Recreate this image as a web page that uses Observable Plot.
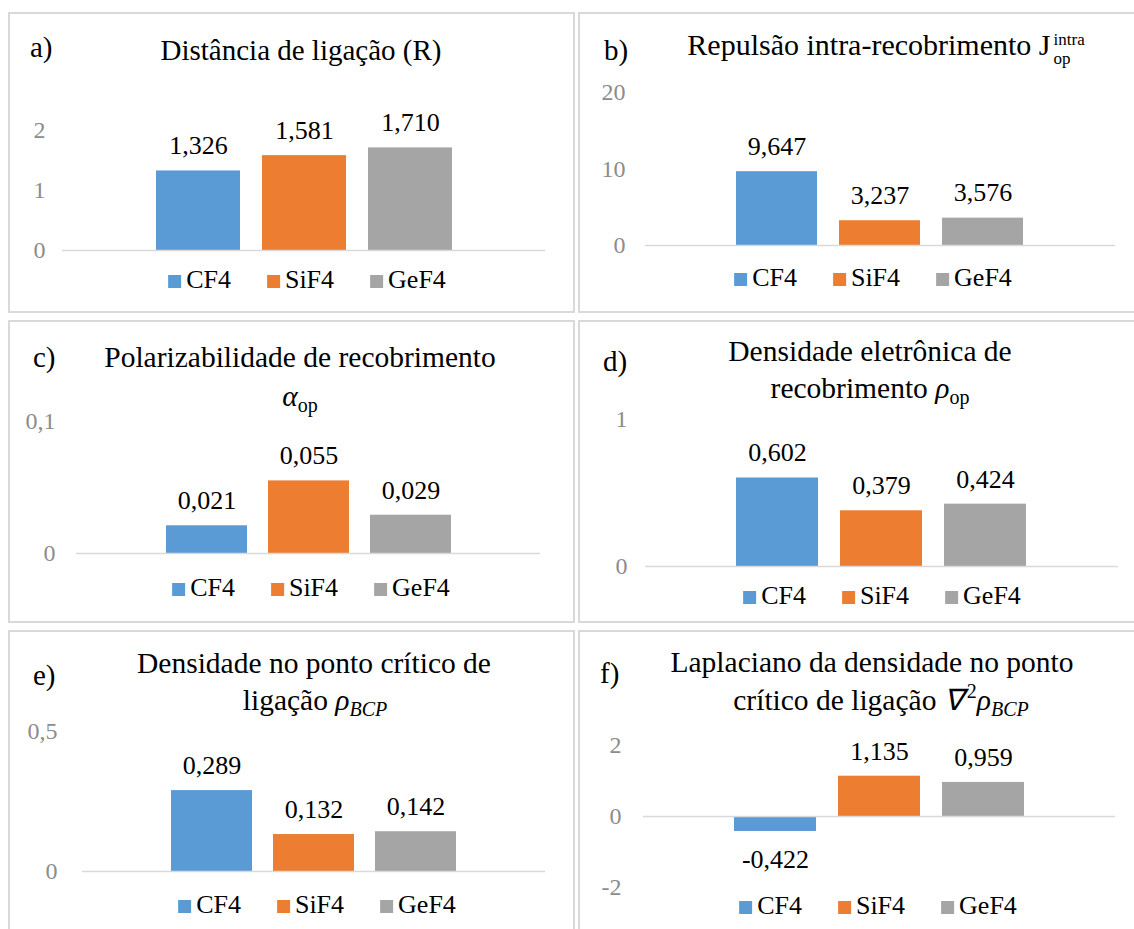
<!DOCTYPE html>
<html>
<head>
<meta charset="utf-8">
<script src="https://cdn.jsdelivr.net/npm/d3@7"></script>
<script src="https://cdn.jsdelivr.net/npm/@observablehq/plot@0.6"></script>
<style>
  body { margin: 0; background: #fff; font-family: "Liberation Serif", "Times New Roman", serif; color: #000; }
  #page { position: relative; width: 1134px; height: 929px; overflow: hidden; }
  .panel { position: absolute; }
  .panel svg { position: absolute; left: 0; top: 0; max-width: none; }
  .frame { position: absolute; inset: 0; border: 2px solid #d9d9d9; pointer-events: none; }
  .lbl { position: absolute; white-space: nowrap; line-height: 1; font-size: 29px; transform: translate(0, -50%); }
  .ttl { position: absolute; white-space: nowrap; text-align: center; font-size: 29.5px; line-height: 37px; transform: translate(-50%, -50%); }
  .ttl i { font-style: italic; }
  .ttl sub { font-size: 20px; vertical-align: -6px; line-height: 0; }
  .ttl sup { font-size: 20px; vertical-align: 12px; line-height: 0; margin-left: 3px; }
  .supsub { display: inline-flex; flex-direction: column; font-size: 17px; line-height: 19px; vertical-align: 10px; margin-left: 3px; text-align: left; }
  .supsub span { display: block; height: 19px; }
  .legend { position: absolute; display: flex; gap: 36px; align-items: center; font-size: 26px; line-height: 1; transform: translate(-50%, -50%); white-space: nowrap; }
  .legend .sw { display: inline-block; width: 13px; height: 13px; margin-right: 5px; vertical-align: 0px; }
</style>
</head>
<body>
<div id="page"></div>
<script>
// Compounds (series) and their Office-style fill colours
const compounds = ["CF4", "SiF4", "GeF4"];
const compoundColors = ["#5B9BD5", "#ED7D31", "#A5A5A5"];

// a) bond distance R
const bondDistance = [1.326, 1.581, 1.710];
const bondDistanceTicks = [0, 1, 2];
// b) intra-overlap repulsion J_op^intra
const intraRepulsion = [9.647, 3.237, 3.576];
const intraRepulsionTicks = [0, 10, 20];
// c) overlap polarizability alpha_op
const overlapPolarizability = [0.021, 0.055, 0.029];
const overlapPolarizabilityTicks = [0, 0.1];
// d) overlap electron density rho_op
const overlapDensity = [0.602, 0.379, 0.424];
const overlapDensityTicks = [0, 1];
// e) density at the bond critical point rho_BCP
const bcpDensity = [0.289, 0.132, 0.142];
const bcpDensityTicks = [0, 0.5];
// f) Laplacian of the density at the bond critical point
const bcpLaplacian = [-0.422, 1.135, 0.959];
const bcpLaplacianTicks = [-2, 0, 2];

const comma = s => s.replace(".", ",").replace("\u2212", "-");
const fmtValue = v => comma(d3.format(".3f")(v));
const fmtTick = v => comma(String(v));

const page = document.getElementById("page");

function barPanel(values, ticks, cfg) {
  const rows = compounds.map((c, i) => ({compound: c, value: values[i]}));
  const panel = document.createElement("div");
  panel.className = "panel";
  Object.assign(panel.style, {left: cfg.left + "px", top: cfg.top + "px", width: cfg.w + "px", height: cfg.h + "px"});

  const chart = Plot.plot({
    width: cfg.w,
    height: cfg.h,
    marginLeft: cfg.ml,
    marginRight: cfg.mr,
    marginTop: cfg.mt,
    marginBottom: cfg.mb,
    style: {background: "transparent", fontFamily: "Liberation Serif, Times New Roman, serif", overflow: "visible"},
    x: {domain: compounds, paddingInner: 0.21, paddingOuter: 0.865, axis: null},
    y: {domain: [d3.min(ticks), d3.max(ticks)], axis: null},
    color: {domain: compounds, range: compoundColors},
    marks: [
      Plot.axisY(ticks, {tickSize: 0, tickPadding: cfg.tp, tickFormat: fmtTick, fontSize: 24, color: "#8c8c8c", label: null}),
      Plot.barY(rows, {x: "compound", y: "value", fill: "compound"}),
      Plot.ruleY([0], {stroke: "#d9d9d9", strokeWidth: 1.5}),
      ...(cfg.edgeTicks ? [
        Plot.ruleX([0], {frameAnchor: "left", y1: 0, y2: 0, insetBottom: -6, stroke: "#d9d9d9", strokeWidth: 1.5}),
        Plot.ruleX([0], {frameAnchor: "right", y1: 0, y2: 0, insetBottom: -6, stroke: "#d9d9d9", strokeWidth: 1.5})
      ] : []),
      Plot.text(rows.filter(d => d.value >= 0), {x: "compound", y: "value", text: d => fmtValue(d.value), dy: -25, fontSize: 26, fill: "#000"}),
      Plot.text(rows.filter(d => d.value < 0), {x: "compound", y: "value", text: d => fmtValue(d.value), dy: 28, fontSize: 26, fill: "#000"})
    ]
  });
  panel.appendChild(chart);

  const frame = document.createElement("div");
  frame.className = "frame";
  panel.appendChild(frame);
  page.appendChild(panel);

  // panel letter
  const tag = document.createElement("div");
  tag.className = "lbl";
  tag.textContent = cfg.tag;
  Object.assign(tag.style, {left: cfg.tagX + "px", top: cfg.tagY + "px"});
  page.appendChild(tag);

  // title lines
  cfg.title.forEach(([html, cx, cy, size]) => {
    const t = document.createElement("div");
    t.className = "ttl";
    t.innerHTML = html;
    Object.assign(t.style, {left: cx + "px", top: cy + "px"});
    if (size) t.style.fontSize = size + "px";
    page.appendChild(t);
  });

  // legend
  const lg = document.createElement("div");
  lg.className = "legend";
  Object.assign(lg.style, {left: cfg.legX + "px", top: cfg.legY + "px"});
  compounds.forEach((c, i) => {
    const item = document.createElement("span");
    item.innerHTML = `<span class="sw" style="background:${compoundColors[i]}"></span>${c}`;
    lg.appendChild(item);
  });
  page.appendChild(lg);
}

barPanel(bondDistance, bondDistanceTicks, {
  left: 8, top: 12, w: 567, h: 301, ml: 54, mr: 30, mt: 118, mb: 63, tp: 17, edgeTicks: true,
  tag: "a)", tagX: 30, tagY: 47,
  title: [["Distância de ligação (R)", 301, 50, 29]],
  legX: 307, legY: 280
});

barPanel(intraRepulsion, intraRepulsionTicks, {
  left: 578, top: 12, w: 562, h: 301, ml: 67, mr: 25, mt: 80, mb: 68, tp: 20,
  tag: "b)", tagX: 604, tagY: 50,
  title: [["Repulsão intra-recobrimento J<span class=\"supsub\"><span>intra</span><span>op</span></span>", 886, 47, 30]],
  legX: 873, legY: 278
});

barPanel(overlapPolarizability, overlapPolarizabilityTicks, {
  left: 8, top: 320, w: 567, h: 303, ml: 68, mr: 35, mt: 101, mb: 70, tp: 21,
  tag: "c)", tagX: 33, tagY: 357,
  title: [["Polarizabilidade de recobrimento", 300, 357], ["<i>α</i><sub>op</sub>", 300, 396]],
  legX: 311, legY: 588
});

barPanel(overlapDensity, overlapDensityTicks, {
  left: 578, top: 320, w: 562, h: 303, ml: 67, mr: 22, mt: 99, mb: 57, tp: 18,
  tag: "d)", tagX: 603, tagY: 361,
  title: [["Densidade eletrônica de", 870, 351], ["recobrimento <i>ρ</i><sub>op</sub>", 870, 388]],
  legX: 882, legY: 596
});

barPanel(bcpDensity, bcpDensityTicks, {
  left: 8, top: 630, w: 567, h: 310, ml: 74, mr: 30, mt: 101, mb: 69, tp: 25,
  tag: "e)", tagX: 33, tagY: 675,
  title: [["Densidade no ponto crítico de", 314, 663], ["ligação <i>ρ</i><sub><i>BCP</i></sub>", 315, 700]],
  legX: 317, legY: 905
});

barPanel(bcpLaplacian, bcpLaplacianTicks, {
  left: 578, top: 630, w: 562, h: 310, ml: 65, mr: 25, mt: 115, mb: 53, tp: 22,
  tag: "f)", tagX: 600, tagY: 673,
  title: [["Laplaciano da densidade no ponto", 872, 662], ["crítico de ligação <i>∇</i><sup>2</sup><i>ρ</i><sub><i>BCP</i></sub>", 881, 700]],
  legX: 878, legY: 906
});
</script>
</body>
</html>
